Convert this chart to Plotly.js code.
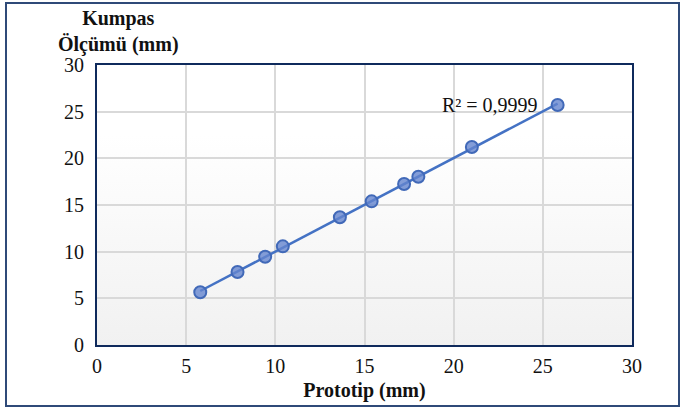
<!DOCTYPE html>
<html>
<head>
<meta charset="utf-8">
<script src="https://cdn.plot.ly/plotly-3.0.1.min.js"></script>
<style>
  html, body { margin: 0; padding: 0; background: #ffffff; }
  #wrap { position: relative; width: 681px; height: 410px; background: #ffffff; overflow: hidden; }
  #bg { position: absolute; left: 97px; top: 65px; width: 535px; height: 280px;
        background: linear-gradient(to bottom, #ffffff 0%, #ffffff 25%, #f1f1f1 100%); }
  #frame { position: absolute; left: 5px; top: 2px; width: 671px; height: 401px;
           border: 2px solid #2f4a78; }
  #chart { position: absolute; left: 0; top: 0; width: 681px; height: 410px; }
</style>
</head>
<body>
<div id="wrap">
  <div id="bg"></div>
  <div id="chart"></div>
  <div id="frame"></div>
</div>
<script>
// Data
const prototip = [5.79, 7.88, 9.43, 10.42, 13.62, 15.40, 17.22, 18.02, 21.02, 25.83];
const kumpas   = [5.65, 7.82, 9.46, 10.57, 13.68, 15.39, 17.25, 18.03, 21.21, 25.71];
const r2Label = "R² = 0,9999";
const xTitle = "Prototip (mm)";
const yTitle = "Kumpas<br>Ölçümü (mm)";
const tickVals = [0, 5, 10, 15, 20, 25, 30];

// Linear trendline (least squares), drawn from min x to max x
const n = prototip.length;
const mx = prototip.reduce((a, b) => a + b, 0) / n;
const my = kumpas.reduce((a, b) => a + b, 0) / n;
let sxy = 0, sxx = 0;
for (let i = 0; i < n; i++) { sxy += (prototip[i] - mx) * (kumpas[i] - my); sxx += (prototip[i] - mx) ** 2; }
const slope = sxy / sxx, icpt = my - slope * mx;
const xmin = Math.min(...prototip), xmax = Math.max(...prototip);
const trendX = [xmin, xmax];
const trendY = trendX.map(v => slope * v + icpt);

const font = "'Liberation Serif', 'Times New Roman', serif";

const traces = [
  { x: trendX, y: trendY, mode: "lines", type: "scatter",
    line: { color: "#4472c4", width: 2.5 }, hoverinfo: "skip", showlegend: false },
  { x: prototip, y: kumpas, mode: "markers", type: "scatter",
    marker: { size: 12, color: "rgba(100,133,206,0.8)", line: { color: "#4169b8", width: 2 } },
    showlegend: false }
];

const axisCommon = {
  range: [0, 30], tickvals: tickVals, ticktext: tickVals.map(String),
  showgrid: true, gridcolor: "#d9d9d9", gridwidth: 2,
  zeroline: false, showline: true, mirror: true, linecolor: "#0f2a5c", linewidth: 2,
  ticks: "outside", tickcolor: "rgba(0,0,0,0)",
  tickfont: { family: font, size: 20, color: "#111111" }, fixedrange: true
};

const layout = {
  width: 681, height: 410,
  margin: { l: 97, r: 49, t: 65, b: 65 },
  paper_bgcolor: "rgba(0,0,0,0)", plot_bgcolor: "rgba(0,0,0,0)",
  font: { family: font, color: "#111111" },
  xaxis: Object.assign({}, axisCommon, {
    ticklen: 2,
    title: { text: "<b>" + xTitle + "</b>", font: { family: font, size: 20, color: "#111111" }, standoff: 7 }
  }),
  yaxis: Object.assign({}, axisCommon, { ticklen: 7 }),
  annotations: [
    { xref: "x", yref: "y", x: prototip[n - 1], y: kumpas[n - 1], text: r2Label,
      showarrow: false, xanchor: "right", yanchor: "middle", xshift: -18,
      font: { family: font, size: 20, color: "#111111" } },
    { xref: "paper", yref: "paper", x: 0.04, y: 1.118, text: "<b>" + yTitle + "</b>",
      showarrow: false, xanchor: "center", yanchor: "middle", align: "center",
      font: { family: font, size: 20, color: "#111111" } }
  ]
};

Plotly.newPlot("chart", traces, layout, { displayModeBar: false, staticPlot: true });
</script>
</body>
</html>
